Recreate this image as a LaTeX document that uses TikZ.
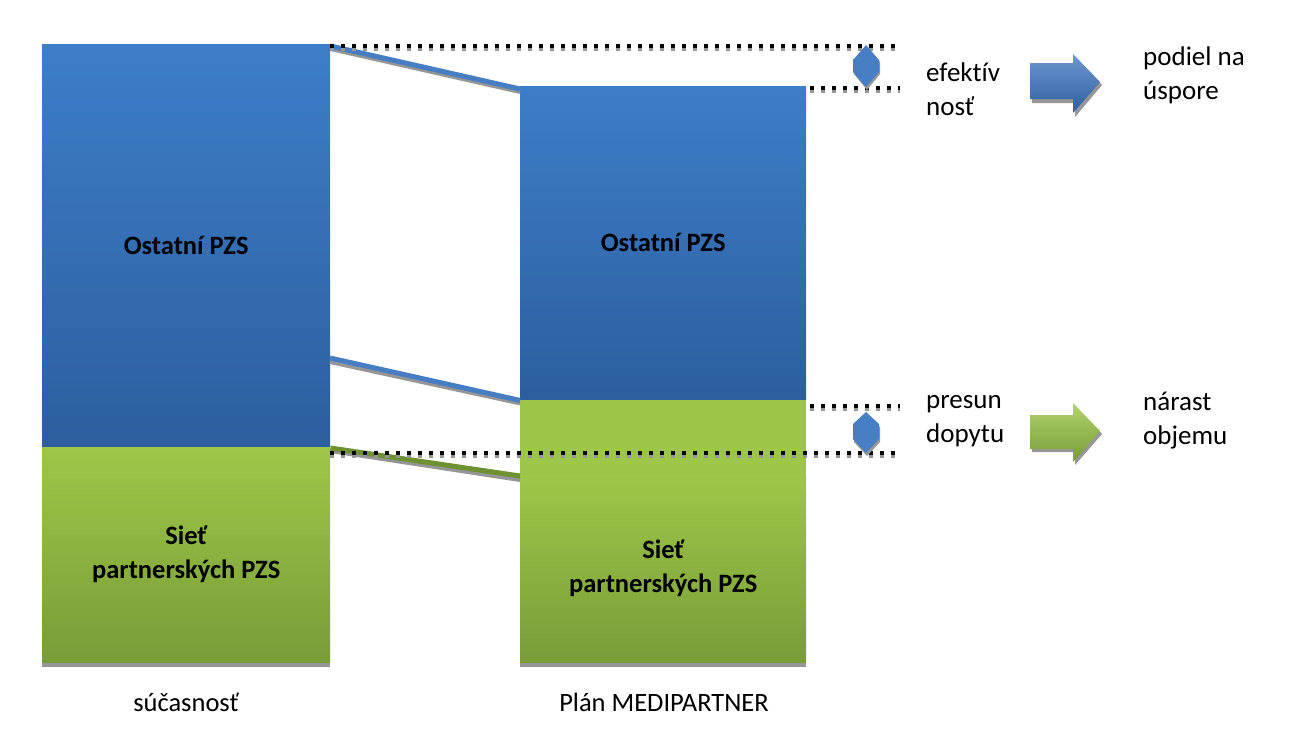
\documentclass[tikz,border=0pt]{standalone}
\usepackage{fontspec}
\setmainfont{Carlito}[Ligatures=NoCommon]
\usetikzlibrary{shadows}
\definecolor{bluetop}{RGB}{60,126,201}
\definecolor{bluebot}{RGB}{45,94,158}
\definecolor{greentop}{RGB}{158,199,72}
\definecolor{greenbot}{RGB}{120,156,56}
\definecolor{greenflat}{RGB}{157,197,72}
\definecolor{linkblue}{RGB}{70,125,195}
\definecolor{linkgreen}{RGB}{110,145,50}
\definecolor{shadowgray}{RGB}{150,150,150}
\definecolor{arrowblue}{RGB}{72,126,196}
\begin{document}
\begin{tikzpicture}[x=1pt,y=-1pt,
  bar/.style={draw=none, inner sep=0pt, anchor=north west, align=center, text=black,
    font=\bfseries\fontsize{26.5}{34}\selectfont},
  bluebar/.style={bar, top color=bluetop, bottom color=bluebot},
  greenbar/.style={bar, top color=greentop, bottom color=greenbot},
  barshadow/.style={drop shadow={shadow xshift=0pt, shadow yshift=-5pt, fill=shadowgray, opacity=1}},
  lbl/.style={inner sep=0pt, align=left, text=black, font=\fontsize{27}{34}\selectfont},
  captext/.style={inner sep=0pt, text=black, font=\fontsize{26.5}{30}\selectfont},
  link/.style={line width=5pt},
  linkshadow/.style={line width=4pt, draw=shadowgray},
  dotline/.style={line width=3.5pt, dash pattern=on 3.5pt off 7.5pt, draw=black},
  dotshadow/.style={line width=3.5pt, dash pattern=on 3.5pt off 7.5pt, draw=shadowgray}
]
\useasboundingbox (0,0) rectangle (1300,740);

% bars
\node[greenbar, barshadow, minimum width=288pt, minimum height=216pt] (Lg) at (42,446) {Sieť\\partnerských PZS};
\node[bluebar, minimum width=288pt, minimum height=402pt] (Lb) at (42,44) {Ostatní PZS};
\node[greenbar, barshadow, minimum width=286pt, minimum height=187pt] (Rg) at (520,475) {Sieť\\partnerských PZS};
\node[bar, fill=greenflat, minimum width=286pt, minimum height=76pt] (Rm) at (520,399) {};
\node[bluebar, minimum width=286pt, minimum height=313pt] (Rb) at (520,86) {Ostatní PZS};

% captions
\node[captext] (c1) at (186,702) {súčasnosť};
\node[captext] (c2) at (664,702) {Plán MEDIPARTNER};

% coordinates
\coordinate (lmid) at (330,358);
\coordinate (d1a) at (330,46);
\coordinate (d1b) at (900,46);
\coordinate (d2a) at (810,88);
\coordinate (d2b) at (900,88);
\coordinate (d3a) at (810,406);
\coordinate (d3b) at (900,406);
\coordinate (d4a) at (330,453);
\coordinate (d4b) at (900,453);

% links
\draw[linkshadow] ([yshift=-5pt]Lb.north east) -- ([yshift=-6pt]Rb.north west);
\draw[link, draw=linkblue] ([yshift=-2pt]Lb.north east) -- ([yshift=-3pt]Rb.north west);
\draw[linkshadow] ([yshift=-4pt]lmid) -- ([yshift=-4pt]Rb.south west);
\draw[link, draw=linkblue] (lmid) -- ([yshift=-1pt]Rb.south west);
\draw[linkshadow] ([yshift=-5pt]Lg.north east) -- ([yshift=-5pt]Rg.north west);
\draw[link, draw=linkgreen] ([yshift=-2pt]Lg.north east) -- ([yshift=-1pt]Rg.north west);

% dotted lines
\foreach \a/\b in {d1a/d1b, d2a/d2b, d3a/d3b, d4a/d4b}{
  \draw[dotshadow] ([yshift=-3pt]\a) -- ([yshift=-3pt]\b);
  \draw[dotline] (\a) -- (\b);
}

% double arrows
\fill[shadowgray] (867,48) -- (880,62) -- (880,74) -- (867,90) -- (854,74) -- (854,62) -- cycle;
\fill[arrowblue] (866,45) -- (879,60) -- (879,72) -- (866,87) -- (853,72) -- (853,60) -- cycle;
\fill[shadowgray] (867,415) -- (880,427) -- (880,442) -- (867,456) -- (854,442) -- (854,427) -- cycle;
\fill[arrowblue] (866,412) -- (879,424) -- (879,439) -- (866,453) -- (853,439) -- (853,424) -- cycle;

% labels
\node[lbl, anchor=west] (t1) at (926,89) {efektív\\nosť};
\node[lbl, anchor=west] (t2) at (1143,75) {podiel na\\úspore};
\node[lbl, anchor=west] (t3) at (926,421) {presun\\dopytu};
\node[lbl, anchor=west] (t4) at (1143,421) {nárast\\objemu};

% block arrows
\fill[shadowgray] (1032,67) -- (1075,67) -- (1075,57) -- (1102,85) -- (1075,117) -- (1075,103) -- (1032,103) -- cycle;
\shade[top color=arrowblue!80!white, bottom color=bluebot] (1030,63) -- (1073,63) -- (1073,54) -- (1100,82) -- (1073,113) -- (1073,99) -- (1030,99) -- cycle;
\fill[shadowgray] (1032,418) -- (1075,418) -- (1075,406) -- (1102,434) -- (1075,465) -- (1075,452) -- (1032,452) -- cycle;
\shade[top color=greentop!80!white, bottom color=greenbot] (1030,415) -- (1073,415) -- (1073,403) -- (1100,431) -- (1073,462) -- (1073,449) -- (1030,449) -- cycle;
\end{tikzpicture}
\end{document}
